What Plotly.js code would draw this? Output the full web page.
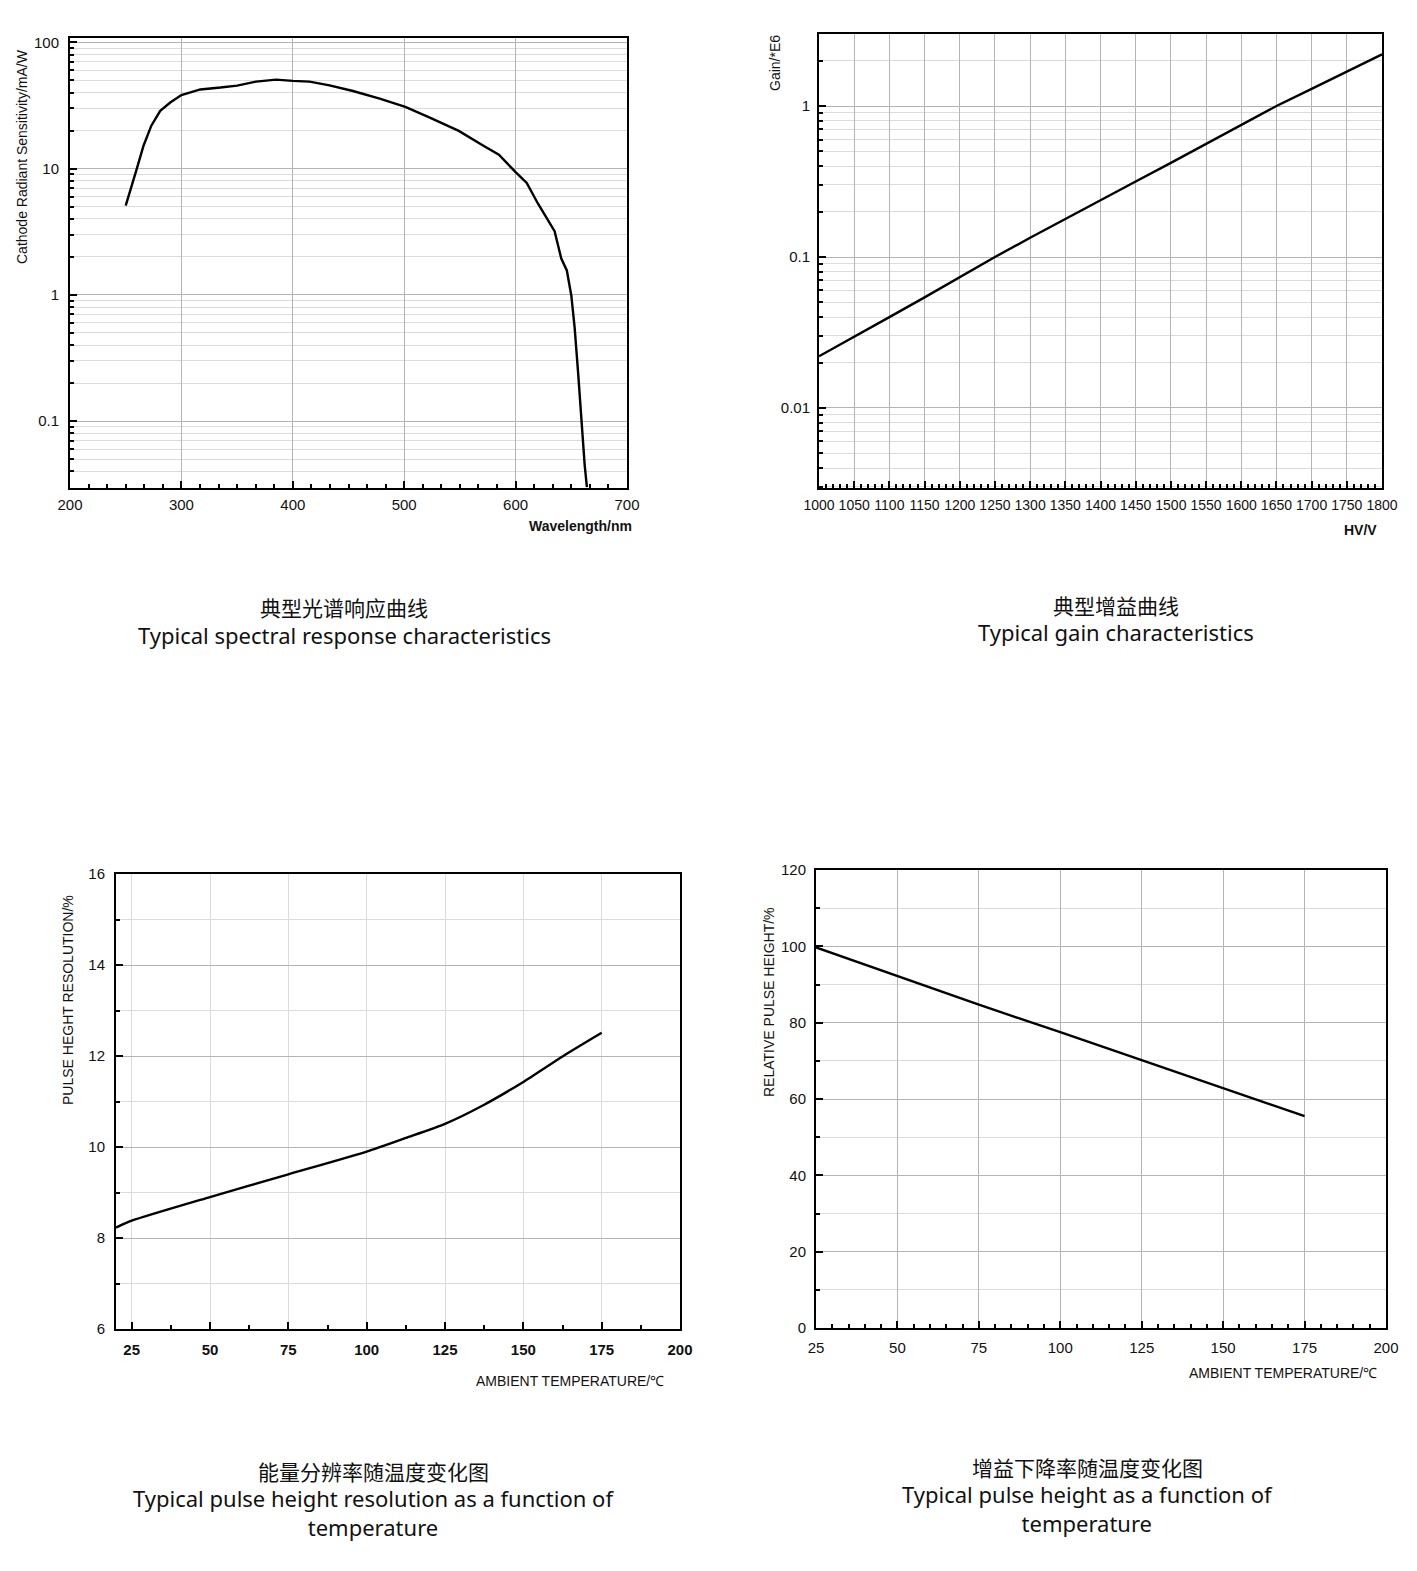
<!DOCTYPE html>
<html>
<head>
<meta charset="utf-8">
<script src="https://cdn.plot.ly/plotly-3.0.1.min.js"></script>
<style>
  html, body { margin: 0; padding: 0; background: #fff; }
  #chart { width: 1417px; height: 1571px; }
</style>
</head>
<body>
<div id="chart"></div>
<script>
// Four PMT datasheet curves on one page.
const W = 1417, H = 1571;
const px = x => x / W;
const py = y => 1 - y / H;

// Spectral response (mA/W vs nm)
const wavelength  = [250, 254, 255.5, 260, 266, 273, 281, 290, 300, 317, 335, 350, 367, 385, 400, 415, 433, 454, 478, 501, 523, 549, 570, 585, 600, 610, 620, 628, 635, 641, 646, 650, 653, 656, 659, 662, 664];
const sensitivity = [5.1, 6.8, 7.6, 10, 15.2, 21.9, 28.7, 33.4, 38.3, 42.4, 43.9, 45.5, 48.9, 50.7, 49.6, 48.9, 45.7, 41.2, 35.9, 30.8, 25.4, 19.9, 15.4, 12.9, 9.4, 7.7, 5.3, 4.04, 3.2, 1.94, 1.56, 0.99, 0.55, 0.25, 0.1, 0.045, 0.03];

// Gain (x1E6) vs HV
const hv   = [1000, 1050, 1100, 1150, 1200, 1250, 1300, 1350, 1400, 1450, 1500, 1550, 1600, 1650, 1700, 1750, 1800];
const gain = [0.022, 0.0295, 0.040, 0.054, 0.0735, 0.1, 0.134, 0.179, 0.238, 0.316, 0.42, 0.56, 0.75, 1.0, 1.3, 1.7, 2.2];

// Pulse height resolution (%) vs temperature
const resTemp = [20, 25, 50, 75, 100, 112.5, 125, 137.5, 150, 162.5, 175];
const resolution = [8.23, 8.38, 8.9, 9.4, 9.9, 10.2, 10.51, 10.93, 11.43, 11.99, 12.51];

// Relative pulse height (%) vs temperature
const phTemp = [25, 50, 75, 100, 125, 150, 175];
const pulseHeight = [99.7, 92.2, 84.7, 77.5, 70.2, 63, 55.5];

const TICK_FONT = { family: "Liberation Sans, Arial, sans-serif", size: 15, color: "#111" };
const LABEL_FONT = { family: "Liberation Sans, Arial, sans-serif", size: 14, color: "#111" };
const CAP_ZH = { family: "Noto Sans CJK SC, sans-serif", size: 21, color: "#111" };
const CAP_EN = { family: "Noto Sans, Open Sans, sans-serif", size: 22, color: "#111" };
const MAJOR_GRID = "#b4b4b4";
const MINOR_GRID = "#dcdcdc";

function baseAxis(extra) {
  return Object.assign({
    showline: true, linecolor: "#000", linewidth: 2, mirror: true,
    ticks: "inside", ticklen: 7, tickwidth: 2, tickcolor: "#000",
    showgrid: true, gridcolor: MAJOR_GRID, gridwidth: 1,
    zeroline: false, tickfont: TICK_FONT, fixedrange: true, tickangle: 0,
  }, extra);
}
const minorTicks = (extra) => Object.assign({ ticks: "inside", ticklen: 4, tickwidth: 2, tickcolor: "#000", showgrid: false }, extra);

const line = { color: "#000", width: 2.4 };
const traces = [
  { type: "scatter", mode: "lines", x: wavelength, y: sensitivity, xaxis: "x", yaxis: "y", line },
  { type: "scatter", mode: "lines", x: hv, y: gain, xaxis: "x2", yaxis: "y2", line },
  { type: "scatter", mode: "lines", x: resTemp, y: resolution, xaxis: "x3", yaxis: "y3", line: Object.assign({ shape: "spline", smoothing: 0.6 }, line) },
  { type: "scatter", mode: "lines", x: phTemp, y: pulseHeight, xaxis: "x4", yaxis: "y4", line },
];

const ann = (x, y, text, font, extra) => Object.assign({
  x: px(x), y: py(y), xref: "paper", yref: "paper", text, font, showarrow: false,
  xanchor: "center", yanchor: "middle",
}, extra || {});

const layout = {
  width: W, height: H,
  margin: { l: 0, r: 0, t: 0, b: 0 },
  paper_bgcolor: "#fff", plot_bgcolor: "#fff",
  showlegend: false,

  // 1. spectral response
  xaxis: baseAxis({
    domain: [px(70), px(627)], anchor: "y", range: [200, 700], dtick: 100, tick0: 200,
    ticklabelstandoff: 2,
    minor: minorTicks({ dtick: 100 / 6 }),
  }),
  yaxis: baseAxis({
    domain: [py(488), py(38)], anchor: "x", type: "log", range: [-1.53, 2.035], dtick: 1,
    ticklabelstandoff: 6,
    minor: minorTicks({ dtick: "D1", showgrid: true, gridcolor: MINOR_GRID }),
  }),

  // 2. gain
  xaxis2: baseAxis({
    domain: [px(819), px(1382)], anchor: "y2", range: [1000, 1800], dtick: 50, tick0: 1000,
    tickfont: Object.assign({}, TICK_FONT, { size: 14 }), ticklabelstandoff: 3,
    minor: minorTicks({ dtick: 10 }),
  }),
  yaxis2: baseAxis({
    domain: [py(488), py(34)], anchor: "x2", type: "log", range: [-2.53, 0.477], dtick: 1,
    ticklabelstandoff: 4,
    minor: minorTicks({ dtick: "D1", showgrid: true, gridcolor: MINOR_GRID }),
  }),

  // 3. resolution vs temperature
  xaxis3: baseAxis({
    domain: [px(116), px(680)], anchor: "y3", range: [20, 200], dtick: 25, tick0: 25,
    tickfont: Object.assign({}, TICK_FONT, { weight: "bold" }), gridcolor: MINOR_GRID,
    ticklabelstandoff: 6,
    minor: minorTicks({ dtick: 12.5, tick0: 25 }),
  }),
  yaxis3: baseAxis({
    domain: [py(1329), py(874)], anchor: "x3", range: [6, 16], dtick: 2,
    ticklabelstandoff: 6,
    minor: minorTicks({ dtick: 1, showgrid: true, gridcolor: MINOR_GRID }),
  }),

  // 4. relative pulse height vs temperature
  xaxis4: baseAxis({
    domain: [px(816), px(1386)], anchor: "y4", range: [25, 200], dtick: 25, tick0: 25,
    ticklabelstandoff: 5,
    minor: minorTicks({ dtick: 5, tick0: 25 }),
  }),
  yaxis4: baseAxis({
    domain: [py(1328), py(870)], anchor: "x4", range: [0, 120], dtick: 20,
    ticklabelstandoff: 5,
    minor: minorTicks({ dtick: 10, showgrid: true, gridcolor: MINOR_GRID }),
  }),

  annotations: [
    // axis titles
    ann(22, 157, "Cathode Radiant Sensitivity/mA/W", LABEL_FONT, { textangle: -90 }),
    ann(580, 526, "<b>Wavelength/nm</b>", LABEL_FONT),
    ann(775, 63, "Gain/*E6", LABEL_FONT, { textangle: -90 }),
    ann(1360, 530, "<b>HV/V</b>", LABEL_FONT),
    ann(68, 1000, "PULSE HEGHT RESOLUTION/%", LABEL_FONT, { textangle: -90 }),
    ann(570, 1381, "AMBIENT TEMPERATURE/℃", LABEL_FONT),
    ann(769, 1002, "RELATIVE PULSE HEIGHT/%", LABEL_FONT, { textangle: -90 }),
    ann(1283, 1373, "AMBIENT TEMPERATURE/℃", LABEL_FONT),

    // captions
    ann(344, 607, "典型光谱响应曲线", CAP_ZH),
    ann(344, 635, "Typical spectral response characteristics", CAP_EN),
    ann(1116, 605, "典型增益曲线", CAP_ZH),
    ann(1116, 632, "Typical gain characteristics", CAP_EN),
    ann(373, 1471, "能量分辨率随温度变化图", CAP_ZH),
    ann(373, 1512, "Typical pulse height resolution as a function of<br>temperature", CAP_EN),
    ann(1087, 1467, "增益下降率随温度变化图", CAP_ZH),
    ann(1087, 1508, "Typical pulse height as a function of<br>temperature", CAP_EN),
  ],
};

Plotly.newPlot("chart", traces, layout, { displayModeBar: false, staticPlot: true });
</script>
</body>
</html>
